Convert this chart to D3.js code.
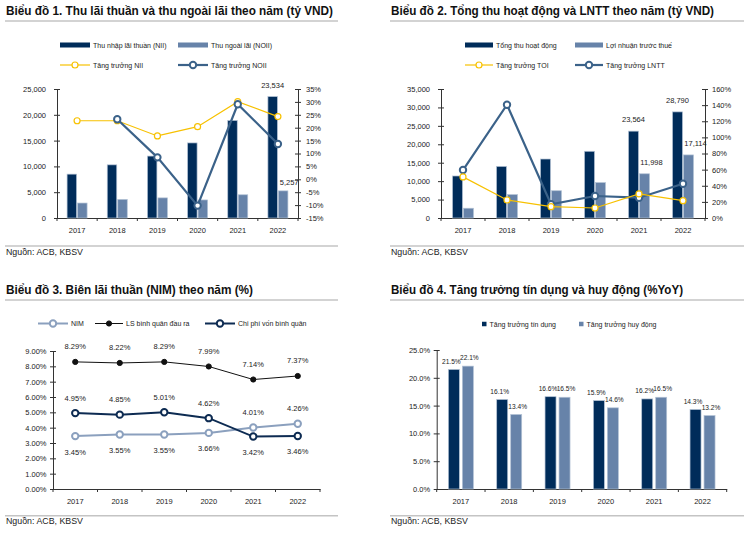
<!DOCTYPE html>
<html>
<head>
<meta charset="utf-8">
<script src="https://cdnjs.cloudflare.com/ajax/libs/d3/7.8.5/d3.min.js"></script>
<style>
  body { margin: 0; background: #fff; }
  svg { display: block; font-family: "Liberation Sans", Arial, sans-serif; }
</style>
</head>
<body>
<svg id="chart" width="750" height="534"></svg>
<script>
// ---- data ----
const years = ["2017", "2018", "2019", "2020", "2021", "2022"];

// Chart 1 (tỷ VND / %)
const nii = [8500, 10300, 12000, 14550, 18900, 23534];
const noii = [2900, 3600, 3900, 3500, 4500, 5257];
const niiGrowth = [22.7, 22.7, 16.8, 20.4, 30.1, 24.3];
const noiiGrowth = [null, 23.3, 8.5, -10.2, 29.1, 13.7];
const ticks1Left = [0, 5000, 10000, 15000, 20000, 25000];
const ticks1Right = [-15, -10, -5, 0, 5, 10, 15, 20, 25, 30, 35];

// Chart 2 (tỷ VND / %)
const toi = [11400, 14000, 16000, 18100, 23564, 28790];
const pbt = [2650, 6350, 7400, 9600, 11998, 17114];
const toiGrowth = [51, 22.3, 14, 12.4, 29.8, 21.5];
const pbtGrowth = [59.5, 140.5, 17, 27.3, 25.2, 42.5];
const ticks2Left = [0, 5000, 10000, 15000, 20000, 25000, 30000, 35000];
const ticks2Right = [0, 20, 40, 60, 80, 100, 120, 140, 160];

// Chart 3 (%)
const nim = [3.45, 3.55, 3.55, 3.66, 4.01, 4.26];
const yieldRate = [8.29, 8.22, 8.29, 7.99, 7.14, 7.37];
const costOfFunds = [4.95, 4.85, 5.01, 4.62, 3.42, 3.46];
const ticks3 = [0, 1, 2, 3, 4, 5, 6, 7, 8, 9];

// Chart 4 (%YoY)
const creditGrowth = [21.5, 16.1, 16.6, 15.9, 16.2, 14.3];
const depositGrowth = [22.1, 13.4, 16.5, 14.6, 16.5, 13.2];
const ticks4 = [0, 5, 10, 15, 20, 25];

// ---- styles ----
const NAVY = "#002c5a";
const LIGHT = "#6783a9";
const GOLD = "#f7c100";
const STEEL = "#3b6289";
const NIMC = "#8ba0be";
const TXT = "#222";
const AXIS = "#333";

const svg = d3.select("#chart");

// Title, underline, and source footer of a panel
function panelFrame(x0, titleY, title, titleW, srcY) {
  svg.append("text")
    .attr("x", x0 + 1).attr("y", titleY)
    .attr("font-size", 13).attr("font-weight", "bold").attr("fill", "#111")
    .attr("textLength", titleW).attr("lengthAdjust", "spacingAndGlyphs")
    .text(title);
  [titleY + 6, srcY - 8.5].forEach(ly => {
    svg.append("line")
      .attr("x1", x0).attr("x2", x0 + 354 - (x0 < 100 ? 21 : 0))
      .attr("y1", ly).attr("y2", ly)
      .attr("stroke", "#c4c4c4").attr("stroke-width", 1.5);
  });
  svg.append("text")
    .attr("x", x0 + 1).attr("y", srcY)
    .attr("font-size", 9.5).attr("fill", TXT)
    .attr("textLength", 77).attr("lengthAdjust", "spacingAndGlyphs")
    .text("Nguồn: ACB, KBSV");
}

function drawYAxis(scale, ticks, fmt, x, side, pad) {
  const axis = (side === "left" ? d3.axisLeft(scale) : d3.axisRight(scale))
    .tickValues(ticks).tickFormat(fmt)
    .tickSizeInner(3).tickSizeOuter(0).tickPadding(pad);
  const g = svg.append("g").attr("transform", `translate(${x},0)`).call(axis);
  g.attr("font-family", null);
  g.select(".domain").attr("stroke", AXIS);
  g.selectAll(".tick line").attr("x1", -3).attr("x2", 3).attr("stroke", AXIS);
  g.selectAll(".tick text").attr("font-size", 7.5).attr("fill", TXT);
}

function drawXAxis(x, y0) {
  const g = svg.append("g").attr("transform", `translate(0,${y0})`)
    .call(d3.axisBottom(x).tickSize(0).tickSizeOuter(0).tickPadding(10));
  g.attr("font-family", null);
  g.select(".domain").attr("stroke", AXIS);
  g.selectAll(".tick text").attr("font-size", 7.5).attr("fill", TXT);
  // small marks between categories
  g.selectAll(".bound").data(d3.range(x.domain().length + 1)).join("line")
    .attr("x1", i => x.range()[0] + i * x.step())
    .attr("x2", i => x.range()[0] + i * x.step())
    .attr("y1", 0).attr("y2", 3)
    .attr("stroke", AXIS);
}

// Grouped bars, one entry of `series` per bar in a group
function drawBars(x, y, series, groupW, gap) {
  const bw = (groupW - gap * (series.length - 1)) / series.length;
  const off = (x.bandwidth() - groupW) / 2;
  series.forEach((s, k) => {
    svg.append("g").selectAll("rect").data(s.values).join("rect")
      .attr("x", (d, i) => x(years[i]) + off + k * (bw + gap))
      .attr("y", d => y(d))
      .attr("width", bw)
      .attr("height", d => y(0) - y(d))
      .attr("fill", s.color)
      .attr("stroke", "#b3c2d5").attr("stroke-width", 0.7);
    if (s.labels) {
      svg.append("g").selectAll("text")
        .data(s.values.map((v, i) => ({ v, i })).filter(p => s.labels.includes(years[p.i])))
        .join("text")
        .attr("x", p => x(years[p.i]) + off + k * (bw + gap) + bw / 2 + (s.dx || 0))
        .attr("y", p => y(p.v) - s.dy)
        .attr("text-anchor", "middle")
        .attr("font-size", s.fs || 7.5).attr("fill", TXT)
        .text(p => s.fmt(p.v));
    }
  });
}

function drawLine(x, y, values, opt) {
  const pts = values.map((v, i) => ({ v, i })).filter(p => p.v != null);
  const cx = p => x(years[p.i]) + x.bandwidth() / 2;
  svg.append("path").datum(pts)
    .attr("d", d3.line().x(cx).y(p => y(p.v)))
    .attr("fill", "none").attr("stroke", opt.color).attr("stroke-width", opt.width);
  svg.append("g").selectAll("circle").data(pts).join("circle")
    .attr("cx", cx).attr("cy", p => y(p.v)).attr("r", opt.r)
    .attr("fill", opt.filled ? opt.color : "#fff")
    .attr("stroke", opt.color).attr("stroke-width", opt.mw);
  if (opt.fmt) {
    svg.append("g").selectAll("text").data(pts).join("text")
      .attr("x", cx)
      .attr("y", p => y(p.v) + (opt.above(p) ? -12.5 : 18.5))
      .attr("text-anchor", "middle")
      .attr("font-size", 7.5).attr("fill", TXT)
      .text(p => opt.fmt(p.v));
  }
}

function legendRect(x, y, w, h, color, label) {
  svg.append("rect").attr("x", x).attr("y", y - h / 2).attr("width", w).attr("height", h)
    .attr("fill", color);
  svg.append("text").attr("x", x + w + 3).attr("y", y + 2.5)
    .attr("font-size", 7).attr("fill", TXT).text(label);
}

function legendLine(x, y, w, opt, label) {
  svg.append("line").attr("x1", x).attr("x2", x + w).attr("y1", y).attr("y2", y)
    .attr("stroke", opt.color).attr("stroke-width", opt.width);
  svg.append("circle").attr("cx", x + w / 2).attr("cy", y).attr("r", opt.r)
    .attr("fill", opt.filled ? opt.color : "#fff")
    .attr("stroke", opt.color).attr("stroke-width", opt.mw);
  svg.append("text").attr("x", x + w + 3).attr("y", y + 2.5)
    .attr("font-size", 7).attr("fill", TXT).text(label);
}

const fmtNum = d3.format(",");

// ---- Chart 1 ----
panelFrame(5, 15, "Biểu đồ 1. Thu lãi thuần và thu ngoài lãi theo năm (tỷ VND)", 327, 254.5);
const x1 = d3.scaleBand().domain(years).range([57, 298]);
const y1 = d3.scaleLinear().domain([0, 25000]).range([218, 89]);
const y1r = d3.scaleLinear().domain([-15, 35]).range([218, 89]);
const gold1 = { color: GOLD, width: 1.2, r: 3, mw: 1.2 };
const steel1 = { color: STEEL, width: 2.2, r: 3.2, mw: 2 };

legendRect(60, 45, 30, 5, NAVY, "Thu nhập lãi thuần (NII)");
legendRect(178, 45, 30, 5, LIGHT, "Thu ngoài lãi (NOII)");
legendLine(60, 65, 30, gold1, "Tăng trưởng NII");
legendLine(178, 65, 30, steel1, "Tăng trưởng NOII");

drawYAxis(y1, ticks1Left, fmtNum, 57, "left", 8);
drawYAxis(y1r, ticks1Right, d => d + "%", 298, "right", 5);
drawXAxis(x1, 218);
drawBars(x1, y1, [
  { values: nii, color: NAVY, labels: ["2022"], fmt: fmtNum, dy: 9 },
  { values: noii, color: LIGHT, labels: ["2022"], fmt: fmtNum, dy: 6, dx: 6 }
], 20, 1);
drawLine(x1, y1r, niiGrowth, gold1);
drawLine(x1, y1r, noiiGrowth, steel1);

// ---- Chart 2 ----
panelFrame(390, 15, "Biểu đồ 2. Tổng thu hoạt động và LNTT theo năm (tỷ VND)", 323, 254.5);
const x2 = d3.scaleBand().domain(years).range([441, 705]);
const y2 = d3.scaleLinear().domain([0, 35000]).range([218, 89]);
const y2r = d3.scaleLinear().domain([0, 160]).range([218, 89]);

legendRect(465, 45, 28, 5, NAVY, "Tổng thu hoạt động");
legendRect(575, 45, 28, 5, LIGHT, "Lợi nhuận trước thuế");
legendLine(465, 65, 28, gold1, "Tăng trưởng TOI");
legendLine(575, 65, 28, steel1, "Tăng trưởng LNTT");

drawYAxis(y2, ticks2Left, fmtNum, 441, "left", 8);
drawYAxis(y2r, ticks2Right, d => d + "%", 705, "right", 4);
drawXAxis(x2, 218);
drawBars(x2, y2, [
  { values: toi, color: NAVY, labels: ["2021", "2022"], fmt: fmtNum, dy: 9 },
  { values: pbt, color: LIGHT, labels: ["2021", "2022"], fmt: fmtNum, dy: 9, dx: 7 }
], 21, 1);
drawLine(x2, y2r, pbtGrowth, steel1);
drawLine(x2, y2r, toiGrowth, gold1);

// ---- Chart 3 ----
panelFrame(5, 294, "Biểu đồ 3. Biên lãi thuần (NIM) theo năm (%)", 247, 524.3);
const x3 = d3.scaleBand().domain(years).range([53, 320]);
const y3 = d3.scaleLinear().domain([0, 9]).range([489, 351]);
const fmtPct2 = d => d.toFixed(2) + "%";
const nimOpt = { color: NIMC, width: 2, r: 3.2, mw: 2 };
const yieldOpt = { color: "#111", width: 1, r: 2.6, mw: 1, filled: true };
const cofOpt = { color: "#0d2b52", width: 2, r: 3.2, mw: 2 };

legendLine(38, 323.5, 30, nimOpt, "NIM");
legendLine(95, 323.5, 28, yieldOpt, "LS bình quân đầu ra");
legendLine(205, 323.5, 30, cofOpt, "Chi phí vốn bình quân");

drawYAxis(y3, ticks3, fmtPct2, 53, "left", 3.5);
drawXAxis(x3, 489);
drawLine(x3, y3, yieldRate, { ...yieldOpt, fmt: fmtPct2, above: () => true });
drawLine(x3, y3, nim, { ...nimOpt, fmt: fmtPct2, above: p => nim[p.i] > costOfFunds[p.i] });
drawLine(x3, y3, costOfFunds, { ...cofOpt, fmt: fmtPct2, above: p => costOfFunds[p.i] > nim[p.i] });

// ---- Chart 4 ----
panelFrame(390, 294, "Biểu đồ 4. Tăng trưởng tín dụng và huy động (%YoY)", 292, 524.3);
const x4 = d3.scaleBand().domain(years).range([436.7, 726.7]);
const y4 = d3.scaleLinear().domain([0, 25]).range([489, 350]);
const fmtPct1 = d => d.toFixed(1) + "%";

legendRect(482, 324, 4.5, 4.5, NAVY, "Tăng trưởng tín dụng");
legendRect(579, 324, 4.5, 4.5, LIGHT, "Tăng trưởng huy động");

drawYAxis(y4, ticks4, fmtPct1, 436.7, "left", 3.5);
drawXAxis(x4, 489);
drawBars(x4, y4, [
  { values: creditGrowth, color: NAVY, labels: years, fmt: fmtPct1, dy: 5.8, dx: -2.5, fs: 6.6 },
  { values: depositGrowth, color: LIGHT, labels: years, fmt: fmtPct1, dy: 5.8, dx: 1.5, fs: 6.6 }
], 25, 3);
</script>
</body>
</html>
